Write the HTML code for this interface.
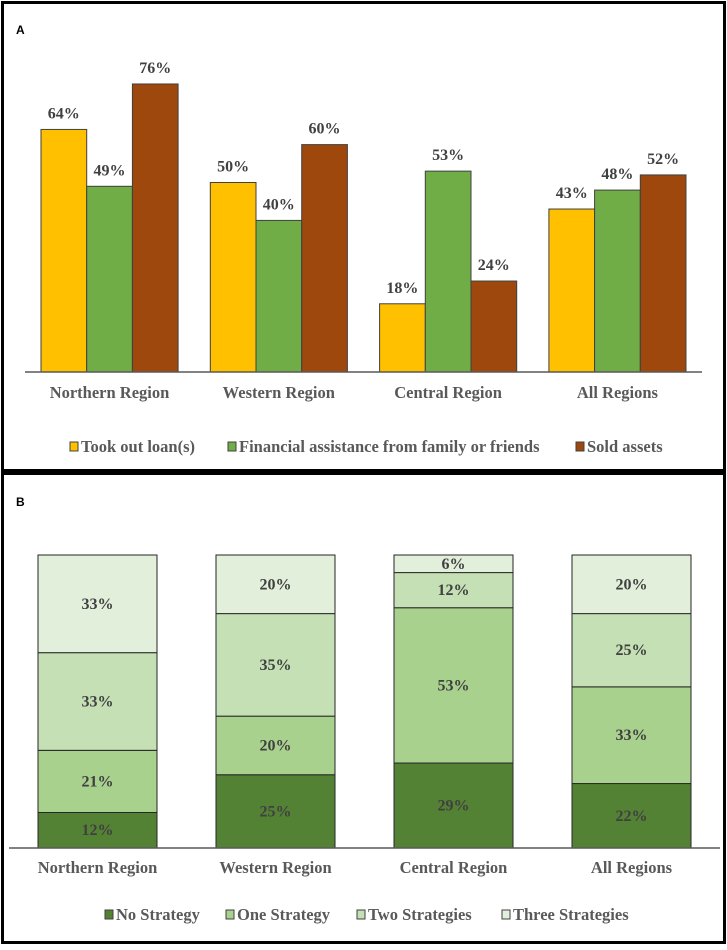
<!DOCTYPE html>
<html><head><meta charset="utf-8"><style>
body{margin:0;background:#fff}
svg text{font-family:"Liberation Serif","Times New Roman",serif;font-weight:bold}
</style></head><body>
<svg id="c" width="727" height="945" xmlns="http://www.w3.org/2000/svg">
<rect x="2.5" y="2.5" width="722" height="468" fill="#fff" stroke="#000" stroke-width="3"/>
<rect x="2.5" y="473.5" width="722" height="469" fill="#fff" stroke="#000" stroke-width="3"/>
<text x="16" y="34" style="font-family:'Liberation Sans',sans-serif;font-size:12px">A</text>
<text x="16" y="506" style="font-family:'Liberation Sans',sans-serif;font-size:12px">B</text>
<g id="ga"></g><g id="gb"></g>
</svg>
<script>
const categories=["Northern Region","Western Region","Central Region","All Regions"];
const seriesA=["Took out loan(s)","Financial assistance from family or friends","Sold assets"];
const loans=[64,50,18,43];
const family=[49,40,53,48];
const sold=[76,60,24,52];
const seriesB=["No Strategy","One Strategy","Two Strategies","Three Strategies"];
const noStrat=[12,25,29,22];
const oneStrat=[21,20,53,33];
const twoStrat=[33,35,12,25];
const threeStrat=[33,20,6,20];
const NS="http://www.w3.org/2000/svg";
const FF='"Liberation Serif", serif';
function mk(p,t,a,txt){const e=document.createElementNS(NS,t);for(const k in a)e.setAttribute(k,a[k]);if(txt!=null){e.textContent=txt;e.setAttribute('font-family',FF);e.setAttribute('font-weight','bold');}p.appendChild(e);return e;}
// Panel A
const ga=document.getElementById('ga');
const colA=["#FFC000","#70AD47","#9E480E"];
const valsA=[loans,family,sold];
const baseA=372, pxA=3.79;
const yA=v=>baseA-v*pxA;
const xA=(i,s)=>41+i*169.3+s*45.7;
for(let s=0;s<3;s++)for(let i=0;i<4;i++){
 const v=valsA[s][i];
 const r=mk(ga,'rect',{x:xA(i,s),y:yA(v),width:45.7,height:v*pxA,fill:colA[s],stroke:'#404040','stroke-width':1});
 
 
 const t=mk(ga,'text',{x:xA(i,s)+22.8,y:yA(v)-11,'text-anchor':'middle','font-size':16,fill:'#404040'},v+'%');
 
 
}
const axA=mk(ga,'line',{x1:25,x2:702,y1:baseA,y2:baseA,stroke:'#595959','stroke-width':1.5});


categories.forEach((c,i)=>{const t=mk(ga,'text',{x:xA(i,1)+22.8,y:398,'text-anchor':'middle','font-size':16.5,fill:'#595959'},c);
 
 });
const legAx=[70,228,576];
seriesA.forEach((s,i)=>{const g=mk(ga,'g',{});
 
 
 mk(g,'rect',{x:legAx[i],y:442,width:8,height:9,fill:colA[i],stroke:'#404040','stroke-width':1});
 mk(g,'text',{x:legAx[i]+11,y:452,'font-size':16.5,fill:'#595959'},s);});
// Panel B
const gb=document.getElementById('gb');
const colB=["#548235","#A9D18E","#C5E0B4","#E2EFDA"];
const valsB=[noStrat,oneStrat,twoStrat,threeStrat];
const baseB=848, hB=293;
const xB=i=>38+i*178;
for(let i=0;i<4;i++){
 let tot=0;valsB.forEach(a=>tot+=a[i]);
 let acc=0;
 for(let s=0;s<4;s++){
  const v=valsB[s][i];const h=v/tot*hB;const y=baseB-acc-h;acc+=h;
  const r=mk(gb,'rect',{x:xB(i),y:y,width:119,height:h,fill:colB[s],stroke:'#262626','stroke-width':1});
  
  
  const t=mk(gb,'text',{x:xB(i)+59.5,y:y+h/2+5,'text-anchor':'middle','font-size':16,fill:'#404040'},v+'%');
  
  
 }
}
const axB=mk(gb,'line',{x1:9,x2:720,y1:baseB,y2:baseB,stroke:'#595959','stroke-width':1.5});


categories.forEach((c,i)=>{const t=mk(gb,'text',{x:xB(i)+59.5,y:873,'text-anchor':'middle','font-size':16.5,fill:'#595959'},c);
 
 });
const legBx=[105,226,357,502];
seriesB.forEach((s,i)=>{const g=mk(gb,'g',{});
 
 
 mk(g,'rect',{x:legBx[i],y:910,width:8,height:9,fill:colB[i],stroke:'#404040','stroke-width':1});
 mk(g,'text',{x:legBx[i]+11,y:920,'font-size':16.5,fill:'#595959'},s);});
</script>
</body></html>
